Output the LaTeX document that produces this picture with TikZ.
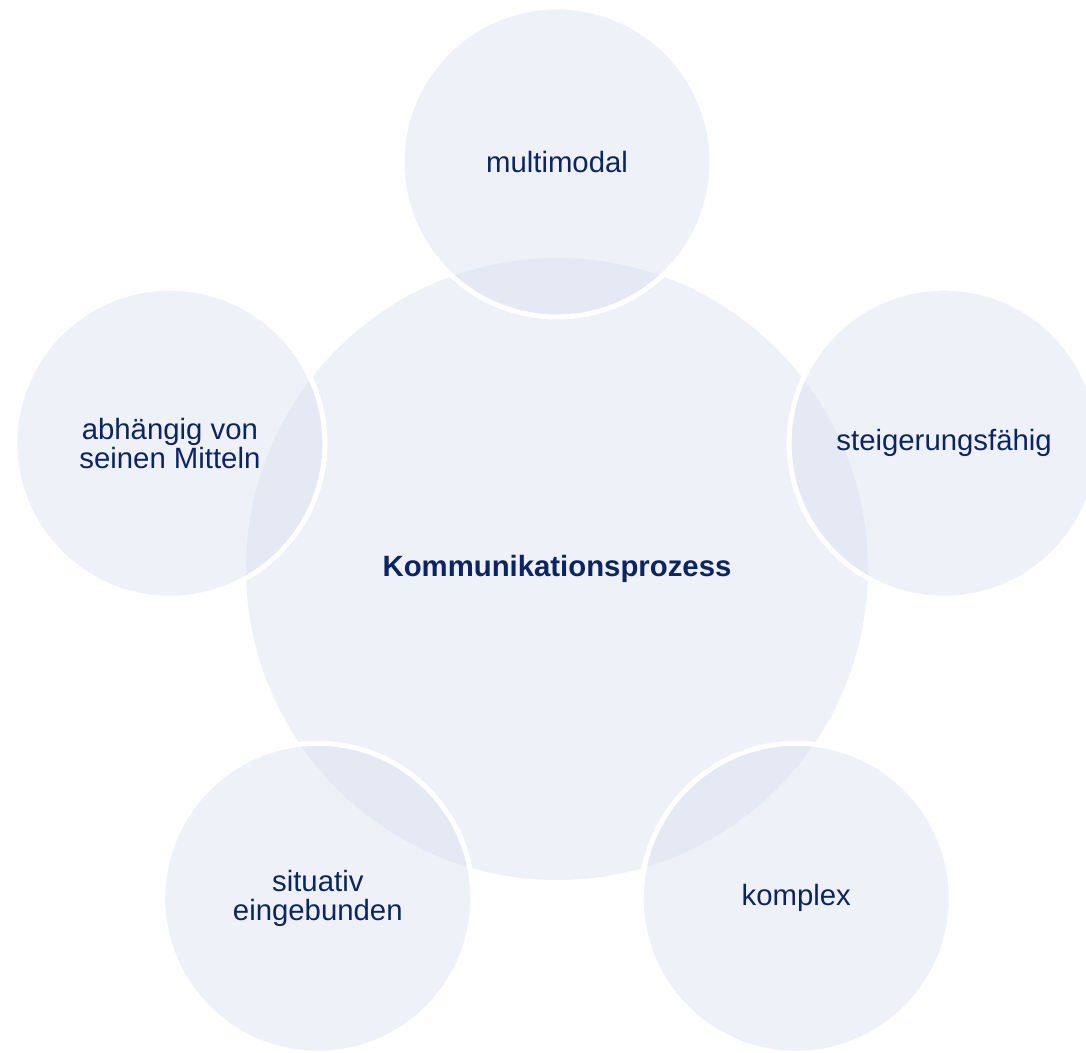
\documentclass[tikz,border=0pt]{standalone}
\usepackage{fontspec}
\setmainfont{Liberation Sans}
\definecolor{bigfill}{RGB}{238,241,248}
\definecolor{smallfill}{RGB}{217,224,239}
\definecolor{navy}{RGB}{12,36,100}
\begin{document}
\begin{tikzpicture}[x=0.75pt,y=0.75pt,
  every node/.style={font=\fontsize{22}{22}\selectfont, text=navy},
  bigcirc/.style={circle, fill=bigfill, minimum size=466.5pt, inner sep=0pt},
  smallcirc/.style={circle, fill=smallfill, fill opacity=0.45, draw=white, draw opacity=1,
    line width=3.75pt, text opacity=1, minimum size=232.5pt, inner sep=0pt, align=center}]
\useasboundingbox (0,0) rectangle (1086,1053);
\node[bigcirc, font=\fontsize{22}{22}\selectfont\bfseries] (center) at (557,484) {Kommunikationsprozess};
\node[smallcirc] (top) at (557,891) {multimodal};
\node[smallcirc] (right) at (944.1,609.8) {steigerungsfähig};
\node[smallcirc] (bright) at (796.2,154.7) {komplex};
\node[smallcirc] (bleft) at (317.8,154.7) {situativ\\eingebunden};
\node[smallcirc] (left) at (169.9,609.8) {abhängig von\\seinen Mitteln};
\end{tikzpicture}
\end{document}
